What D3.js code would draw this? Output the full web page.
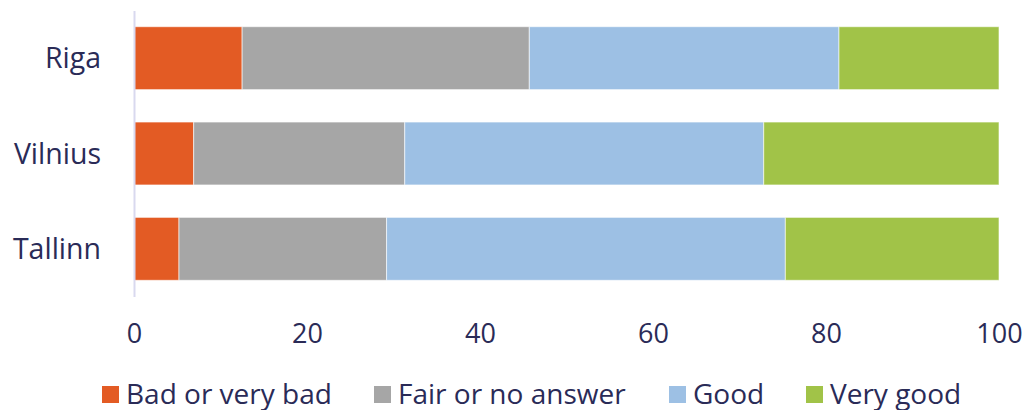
<!DOCTYPE html>
<html>
<head>
<meta charset="utf-8">
<script src="https://cdn.jsdelivr.net/npm/d3@7"></script>
<style>
  html, body { margin: 0; padding: 0; background: #fff; }
  svg { display: block; font-family: "Open Sans", sans-serif; }
</style>
</head>
<body>
<svg id="chart" width="1028" height="410"></svg>
<script>
// Cities, top to bottom
const cities = ["Riga", "Vilnius", "Tallinn"];
// Share of answers (%) per rating
const badOrVeryBad = [12.5, 6.9, 5.2];
const fairOrNoAnswer = [33.2, 24.4, 24.0];
const good = [35.8, 41.5, 46.1];
const veryGood = [18.5, 27.2, 24.7];
const seriesNames = ["Bad or very bad", "Fair or no answer", "Good", "Very good"];
const seriesColors = ["#e35b24", "#a6a6a6", "#9dc0e4", "#a1c348"];
const xTicks = [0, 20, 40, 60, 80, 100];

const textColor = "#2a2b57";
const fontFamily = "'Open Sans', sans-serif";
const svg = d3.select("#chart");

const rows = cities.map((c, i) => ({
  city: c,
  "Bad or very bad": badOrVeryBad[i],
  "Fair or no answer": fairOrNoAnswer[i],
  "Good": good[i],
  "Very good": veryGood[i]
}));

const x = d3.scaleLinear().domain([0, 100]).range([134, 999]);
const y = d3.scaleBand().domain(cities).range([10.5, 296.5])
  .paddingInner(0.34).paddingOuter(0.17);
const color = d3.scaleOrdinal().domain(seriesNames).range(seriesColors);

const stacked = d3.stack().keys(seriesNames)(rows);

svg.append("g").selectAll("g")
  .data(stacked).join("g")
  .attr("fill", d => color(d.key))
  .selectAll("rect")
  .data(d => d).join("rect")
  .attr("x", d => x(d[0]))
  .attr("width", d => x(d[1]) - x(d[0]))
  .attr("y", d => y(d.data.city))
  .attr("height", y.bandwidth())
  .attr("stroke", "#ffffff")
  .attr("stroke-opacity", 0.6)
  .attr("stroke-width", 1);

// Vertical axis line with city labels
const yAxis = svg.append("g").attr("transform", "translate(134,0)")
  .call(d3.axisLeft(y).tickSize(0).tickPadding(33))
  .attr("font-family", fontFamily);
yAxis.select(".domain").attr("stroke", "#d9d9ef").attr("stroke-width", 2);
yAxis.selectAll("text")
  .attr("fill", textColor)
  .attr("font-size", 28.5)
  .attr("dy", "0.36em");

// Horizontal value axis: labels only
const xAxis = svg.append("g").attr("transform", "translate(0,296)")
  .call(d3.axisBottom(x).tickValues(xTicks).tickSize(0).tickPadding(28))
  .attr("font-family", fontFamily);
xAxis.select(".domain").remove();
xAxis.selectAll("text")
  .attr("fill", textColor)
  .attr("font-size", 27)
  .attr("dy", "0.71em");

// Legend
const legendX = [102, 374, 669, 806];
const legend = svg.append("g").attr("font-family", fontFamily)
  .selectAll("g")
  .data(seriesNames).join("g")
  .attr("transform", (d, i) => `translate(${legendX[i]},386)`);
legend.append("rect")
  .attr("width", 17).attr("height", 17)
  .attr("fill", d => color(d));
legend.append("text")
  .attr("x", 24).attr("y", 17.5)
  .attr("fill", textColor)
  .attr("font-size", 28)
  .text(d => d);
</script>
</body>
</html>
